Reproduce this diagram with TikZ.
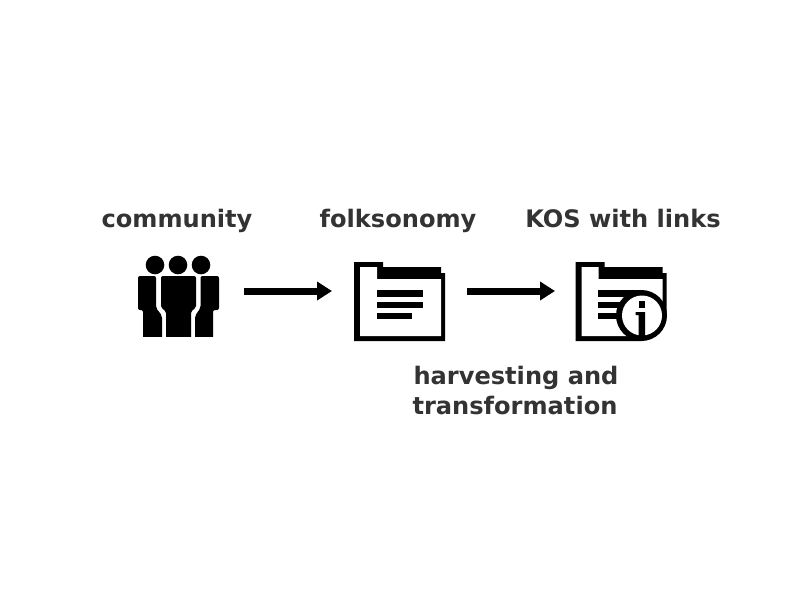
\documentclass[tikz,border=0pt]{standalone}
\usepackage{fontspec}
\setmainfont{DejaVu Sans}
\usetikzlibrary{arrows.meta}
\definecolor{labelgrey}{HTML}{333333}
\tikzset{
  lbl/.style={font=\fontsize{24.1}{29}\selectfont\bfseries,text=labelgrey,inner sep=0pt,anchor=base},
  icon/.style={minimum height=100pt,inner sep=0pt,outer sep=0pt},
  flow/.style={line width=7pt,black,-{Triangle[length=15pt,width=18pt]}},
  ink/.style={fill=black,draw=none},
  paper/.style={fill=white,draw=none}
}
\newcommand{\folder}[1]{%
  \begin{scope}[xshift=#1pt]
    \fill[ink] (354,262) -- (383,262) -- (383,267) -- (441,267) -- (441,273) -- (445,273) -- (445,341) -- (354,341) -- cycle;
    \fill[paper] (360,267) -- (377,267) -- (377,279) -- (441,279) -- (441,336) -- (360,336) -- cycle;
  \end{scope}}
\begin{document}
\begin{tikzpicture}[x=1pt,y=-1pt]
\useasboundingbox[fill=white] (0,0) rectangle (800,600);
\node[icon,minimum width=81pt] (a) at (178.5,291) {};
\node[icon,minimum width=91pt] (b) at (399.5,291) {};
\node[icon,minimum width=92pt] (c) at (621,291) {};
% people
\foreach \x in {155,178,201} \fill[ink] (\x,265) circle (9.3);
\begin{scope}[rounded corners=2pt]
\fill[ink] (138,276) -- (156,276) -- (156,308) -- (160,313) -- (162,316) -- (162,340) -- (143,340) -- (143,310) -- (138,310) -- cycle;
\fill[ink] (219,276) -- (200.5,276) -- (200.5,308) -- (197,313) -- (195,316) -- (195,340) -- (213,340) -- (213,310) -- (219,310) -- cycle;
\fill[ink] (161,276) -- (196,276) -- (196,308) -- (191,311) -- (191,340) -- (166,340) -- (166,311) -- (161,308) -- cycle;
\end{scope}
\fill[paper] (130,337) rectangle (225,345);
% folksonomy
\folder{0}
\fill[ink] (377,290) rectangle (423,297);
\fill[ink] (377,302) rectangle (423,308);
\fill[ink] (377,313) rectangle (412,319);
% KOS
\folder{221.5}
\fill[ink] (598,290) rectangle (640,297);
\fill[ink] (598,302) rectangle (640,308);
\fill[ink] (598,313) rectangle (640,319);
\fill[paper] (642,316) rectangle (670,345);
\fill[ink] (641.5,315.5) circle (25.5);
\fill[paper] (642,315.5) circle (20);
\fill[ink] (638.5,301) rectangle (645,307.5);
\fill[ink] (635.5,312) -- (645,312) -- (645,336) -- (638.5,336) -- (638.5,315) -- (635.5,315) -- cycle;
% arrows
\draw[flow,shorten <=25pt,shorten >=22pt] (a) -- (b);
\draw[flow,shorten <=22pt,shorten >=20pt] (b) -- (c);
% labels
\node[lbl] (t1) at (177,227) {community};
\node[lbl] (t2) at (398,227) {folksonomy};
\node[lbl] (t3) at (623,227) {KOS with links};
\node[lbl] (t4) at (516,384) {harvesting and};
\node[lbl] (t5) at (515,414) {transformation};
\end{tikzpicture}
\end{document}
